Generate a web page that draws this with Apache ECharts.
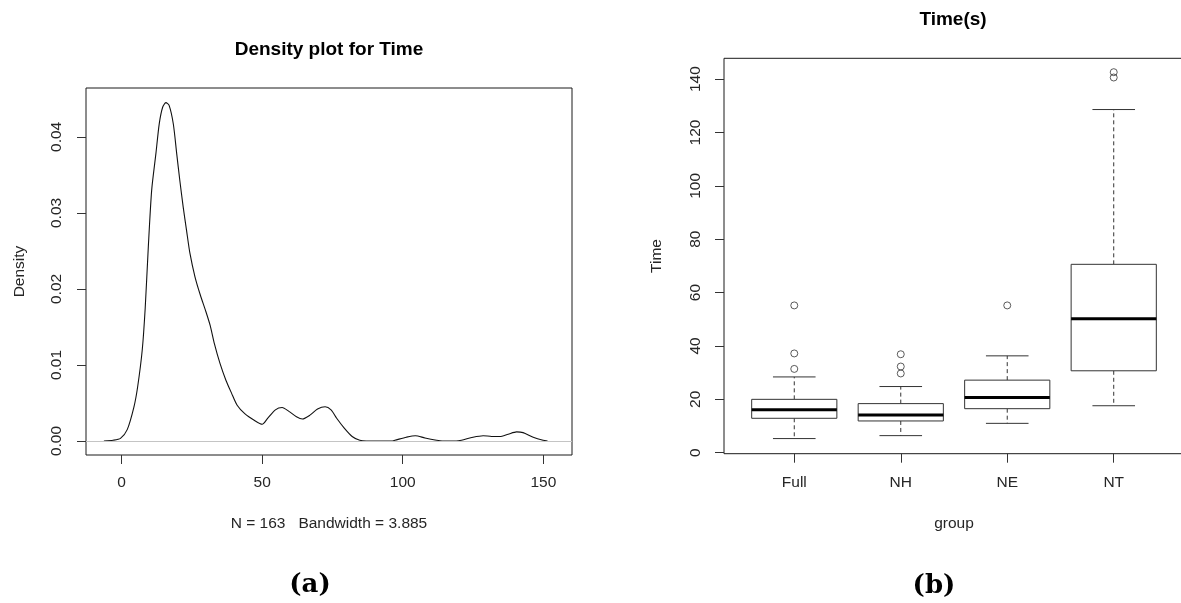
<!DOCTYPE html>
<html>
<head>
<meta charset="utf-8">
<script src="https://cdn.jsdelivr.net/npm/echarts@6/dist/echarts.min.js"></script>
<style>
html,body{margin:0;padding:0;background:#fff;}
#c{width:1181px;height:603px;}
</style>
</head>
<body>
<div id="c"></div>
<script>
// ---------- Data: (a) density plot ----------
var densityX = [-6.3, -3, -0.4, 2.0, 4.4, 5.7, 7.35, 8.4, 9.5, 10.7, 12.2, 13.4, 14.6, 15.75, 16.9, 18.4, 19.6, 20.7, 21.9, 23.1, 24.3, 26.1, 28.0, 30.0, 31.5, 33.0, 35.0, 37.1, 39.1, 41.1, 43.8, 47.3, 50.0, 52.0, 54.7, 57.1, 59.5, 62.2, 64.3, 67.0, 69.7, 72.4, 74.5, 76.5, 79.2, 82.0, 84.7, 87, 96, 97.2, 101.3, 104.5, 107.9, 112.0, 114, 119, 120.9, 125.0, 128.6, 131.6, 134.5, 137.5, 140.5, 142.8, 146.4, 149.9, 151.5];
var densityY = [0, 0.0001, 0.00035, 0.0015, 0.0045, 0.0071, 0.012, 0.0175, 0.0255, 0.033, 0.0378, 0.04175, 0.0439, 0.0445, 0.04415, 0.0417, 0.0378, 0.0343, 0.0308, 0.0277, 0.0247, 0.0216, 0.0192, 0.0170, 0.0152, 0.0128, 0.0102, 0.0080, 0.0063, 0.0047, 0.0036, 0.0027, 0.0022, 0.0030, 0.0041, 0.0044, 0.0039, 0.0032, 0.0029, 0.0034, 0.0042, 0.0045, 0.0041, 0.0030, 0.0017, 0.0006, 0.0001, 0, 0, 0.0001, 0.0005, 0.0007, 0.0004, 0.0001, 0, 0, 0.0001, 0.0005, 0.0007, 0.0006, 0.0006, 0.0009, 0.0012, 0.0011, 0.0005, 0.0001, 0];
var xTicksA = [0, 50, 100, 150];
var yTicksA = [0, 0.01, 0.02, 0.03, 0.04];

// ---------- Data: (b) boxplot ----------
var groups = ['Full', 'NH', 'NE', 'NT'];
var whiskerLow = [5.3, 6.4, 11.0, 17.6];
var q1 = [12.9, 11.9, 16.5, 30.7];
var median = [16.1, 14.1, 20.7, 50.2];
var q3 = [20.0, 18.4, 27.2, 70.6];
var whiskerHigh = [28.4, 24.8, 36.3, 128.6];
var outlierGroup = [1, 1, 1, 2, 2, 2, 3, 4, 4];
var outlierValue = [31.4, 37.2, 55.2, 29.7, 32.3, 36.9, 55.2, 140.6, 142.6];
var yTicksB = [0, 20, 40, 60, 80, 100, 120, 140];
var xTicksB = [1, 2, 3, 4];

var FONT = '"Liberation Sans", Arial, sans-serif';
var TXT = '#262626';
var LINE = '#333333';

var densityData = densityX.map(function (x, i) { return [x, densityY[i]]; });
var boxData = groups.map(function (g, i) { return [i + 1, whiskerLow[i], q1[i], median[i], q3[i], whiskerHigh[i]]; });
var outlierData = outlierGroup.map(function (g, i) { return [g, outlierValue[i]]; });

var chart = echarts.init(document.getElementById('c'), null, {renderer: 'canvas'});

function axisCommon() {
  return {
    axisLine: {show: false, onZero: false},
    splitLine: {show: false},
    axisTick: {show: true, length: 9, lineStyle: {color: LINE, width: 1}},
    axisLabel: {color: TXT, fontSize: 15.5, fontFamily: FONT},
    nameTextStyle: {color: TXT, fontSize: 15.5, fontFamily: FONT}
  };
}

var xa = axisCommon();
xa.gridIndex = 0; xa.type = 'value'; xa.min = -12.66; xa.max = 160.2;
xa.axisTick.customValues = xTicksA;
xa.axisLabel.customValues = xTicksA; xa.axisLabel.margin = 20;
xa.name = 'N = 163   Bandwidth = 3.885'; xa.nameLocation = 'middle'; xa.nameGap = 61;

var ya = axisCommon();
ya.gridIndex = 0; ya.type = 'value'; ya.min = -0.00184; ya.max = 0.04643;
ya.axisTick.customValues = yTicksA;
ya.axisLabel.customValues = yTicksA; ya.axisLabel.margin = 21; ya.axisLabel.rotate = 90;
ya.axisLabel.formatter = function (v) { return v.toFixed(2); };
ya.name = 'Density'; ya.nameLocation = 'middle'; ya.nameGap = 58;

var xb = axisCommon();
xb.gridIndex = 1; xb.type = 'value'; xb.min = 0.34; xb.max = 4.66;
xb.axisTick.customValues = xTicksB;
xb.axisLabel.customValues = xTicksB; xb.axisLabel.margin = 21;
xb.axisLabel.formatter = function (v) { return groups[Math.round(v) - 1]; };
xb.name = 'group'; xb.nameLocation = 'middle'; xb.nameGap = 62;

var yb = axisCommon();
yb.gridIndex = 1; yb.type = 'value'; yb.min = -0.37; yb.max = 147.8;
yb.axisTick.customValues = yTicksB;
yb.axisLabel.customValues = yTicksB; yb.axisLabel.margin = 20; yb.axisLabel.rotate = 90;
yb.name = 'Time'; yb.nameLocation = 'middle'; yb.nameGap = 59;

var option = {
  backgroundColor: '#ffffff',
  animation: false,
  grid: [
    {left: 86, top: 88, width: 486, height: 367, show: true, borderColor: '#1a1a1a', borderWidth: 1, backgroundColor: 'transparent', containLabel: false, outerBoundsMode: 'none'},
    {left: 724, top: 58.3, width: 460, height: 395.4, show: true, borderColor: '#1a1a1a', borderWidth: 1, backgroundColor: 'transparent', containLabel: false, outerBoundsMode: 'none'}
  ],
  xAxis: [xa, xb],
  yAxis: [ya, yb],
  series: [
    {
      type: 'line', xAxisIndex: 0, yAxisIndex: 0, data: densityData,
      showSymbol: false, symbol: 'none', smooth: 0.25,
      lineStyle: {color: '#111', width: 1.1}, z: 2,
      markLine: {
        silent: true, symbol: ['none', 'none'], label: {show: false},
        lineStyle: {color: '#c4c4c4', width: 1, type: 'solid'},
        data: [{yAxis: 0}], z: 5
      }
    },
    {
      type: 'custom', xAxisIndex: 1, yAxisIndex: 1, data: boxData,
      encode: {x: 0, y: [1, 2, 3, 4, 5]},
      renderItem: function (params, api) {
        var x = api.value(0);
        var lo = api.coord([x, api.value(1)]);
        var p1 = api.coord([x, api.value(2)]);
        var pm = api.coord([x, api.value(3)]);
        var p3 = api.coord([x, api.value(4)]);
        var hi = api.coord([x, api.value(5)]);
        var bw = api.size([0.8, 0])[0];
        var cw = api.size([0.4, 0])[0];
        var cx = p1[0];
        var dash = {stroke: LINE, lineWidth: 1, lineDash: [4, 3]};
        var solid = {stroke: LINE, lineWidth: 1};
        return {
          type: 'group',
          children: [
            {type: 'line', shape: {x1: cx, y1: p3[1], x2: cx, y2: hi[1]}, style: dash},
            {type: 'line', shape: {x1: cx, y1: p1[1], x2: cx, y2: lo[1]}, style: dash},
            {type: 'line', shape: {x1: cx - cw / 2, y1: hi[1], x2: cx + cw / 2, y2: hi[1]}, style: solid},
            {type: 'line', shape: {x1: cx - cw / 2, y1: lo[1], x2: cx + cw / 2, y2: lo[1]}, style: solid},
            {type: 'rect', shape: {x: cx - bw / 2, y: p3[1], width: bw, height: p1[1] - p3[1]}, style: {fill: '#fff', stroke: LINE, lineWidth: 1}},
            {type: 'line', shape: {x1: cx - bw / 2, y1: pm[1], x2: cx + bw / 2, y2: pm[1]}, style: {stroke: '#000', lineWidth: 3}}
          ]
        };
      }
    },
    {
      type: 'scatter', xAxisIndex: 1, yAxisIndex: 1, data: outlierData,
      symbol: 'circle', symbolSize: 7,
      itemStyle: {color: 'rgba(255,255,255,0)', borderColor: LINE, borderWidth: 1}
    }
  ],
  graphic: [
    {type: 'text', x: 329, y: 50, style: {text: 'Density plot for Time', font: 'bold 19px ' + FONT, fill: '#000', textAlign: 'center', textVerticalAlign: 'middle'}},
    {type: 'text', x: 953, y: 20, style: {text: 'Time(s)', font: 'bold 19px ' + FONT, fill: '#000', textAlign: 'center', textVerticalAlign: 'middle'}},
    {type: 'text', x: 310, y: 585, style: {text: '(a)', font: 'bold 26px "DejaVu Serif", serif', fill: '#000', textAlign: 'center', textVerticalAlign: 'middle'}},
    {type: 'text', x: 934, y: 586, style: {text: '(b)', font: 'bold 26px "DejaVu Serif", serif', fill: '#000', textAlign: 'center', textVerticalAlign: 'middle'}}
  ]
};
chart.setOption(option);
</script>
</body>
</html>
